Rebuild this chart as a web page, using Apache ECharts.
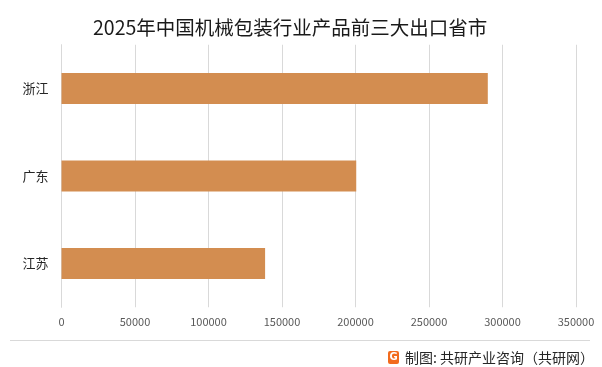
<!DOCTYPE html>
<html>
<head>
<meta charset="utf-8">
<script src="https://cdn.jsdelivr.net/npm/echarts@6/dist/echarts.min.js"></script>
<style>
html,body{margin:0;padding:0;background:#fff;}
#main{width:602px;height:367px;}
</style>
</head>
<body>
<div id="main"></div>
<script>
var titleText = '2025年中国机械包装行业产品前三大出口省市';
var categories = ['浙江', '广东', '江苏'];
var values = [290000, 200500, 138500];
var xTicks = [0, 50000, 100000, 150000, 200000, 250000, 300000, 350000];
var sourceText = '制图: 共研产业咨询（共研网）';

var chart = echarts.init(document.getElementById('main'), null, {renderer: 'canvas'});
var font = '"Noto Sans CJK SC", "Noto Sans", sans-serif';
chart.setOption({
  animation: false,
  backgroundColor: '#ffffff',
  title: {
    text: titleText,
    left: 88,
    top: 13,
    textStyle: {fontFamily: font, fontSize: 19.5, fontWeight: 'normal', color: '#1a1a1a'}
  },
  grid: {left: 61.5, right: 26, top: 44.75, bottom: 59.75, containLabel: false},
  xAxis: {
    type: 'value',
    min: xTicks[0],
    max: xTicks[xTicks.length - 1],
    interval: xTicks[1] - xTicks[0],
    axisLine: {show: false},
    axisTick: {show: false},
    splitLine: {show: true, lineStyle: {color: '#d9d9d9', width: 1}},
    axisLabel: {color: '#595959', fontSize: 11, fontFamily: font, margin: 9,
      formatter: function (v) { return String(v); }}
  },
  yAxis: {
    type: 'category',
    data: categories,
    inverse: true,
    axisLine: {show: true, lineStyle: {color: '#d9d9d9', width: 1}},
    axisTick: {show: false},
    axisLabel: {color: '#262626', fontSize: 13, fontFamily: font, margin: 13}
  },
  series: [{
    type: 'bar',
    data: values,
    barCategoryGap: '64.5%',
    itemStyle: {color: '#D38D50'}
  }],
  graphic: [
    {type: 'line', shape: {x1: 10, y1: 340.5, x2: 590, y2: 340.5}, style: {stroke: '#d9d9d9', lineWidth: 1}},
    {type: 'rect', shape: {x: 388, y: 351, width: 11, height: 13, r: 2}, style: {fill: '#F26B1D'}},
    {type: 'text', style: {x: 393.5, y: 357.5, text: 'G', fill: '#ffffff', fontSize: 10, fontWeight: 'bold', fontFamily: 'DejaVu Sans', align: 'center', verticalAlign: 'middle'}},
    {type: 'text', style: {x: 405, y: 358, text: sourceText, fill: '#262626', fontSize: 14, fontFamily: font, align: 'left', verticalAlign: 'middle'}}
  ]
});
</script>
</body>
</html>
